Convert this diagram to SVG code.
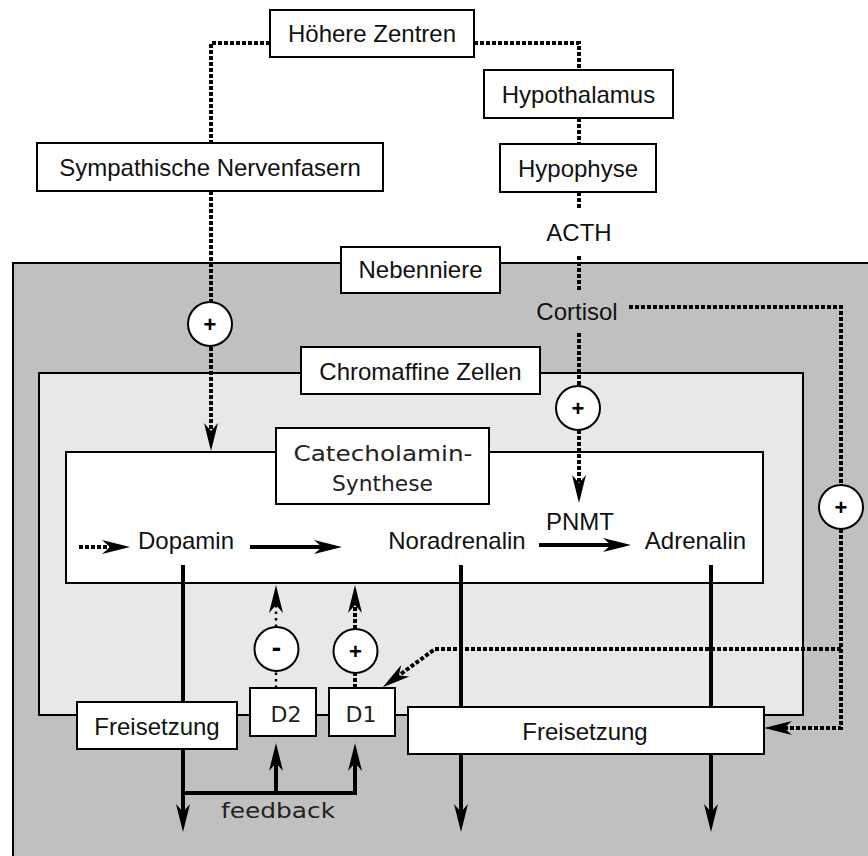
<svg xmlns="http://www.w3.org/2000/svg" width="868" height="856" viewBox="0 0 868 856">
<style>
.box{fill:#fff;stroke:#000;stroke-width:2}
.t{font-family:"Liberation Sans",Arial,sans-serif;font-size:24px;fill:#111;text-anchor:middle}
.g{font-family:"DejaVu Sans",Lato,sans-serif;font-size:22px;fill:#222;text-anchor:middle}
.sign{font-family:"Liberation Sans",Arial,sans-serif;font-size:22px;font-weight:bold;fill:#000;text-anchor:middle}
.circ{fill:#fff;stroke:#000;stroke-width:2}
.dot{fill:none;stroke:#000;stroke-width:4;stroke-dasharray:4 2}
.dot2{fill:none;stroke:#000;stroke-width:2.5;stroke-dasharray:2.5 4}
.sol{fill:none;stroke:#000;stroke-width:4}
</style>
<defs>
<marker id="arr" viewBox="0 -8 30 16" markerWidth="30" markerHeight="16" refX="14" refY="0" orient="auto" markerUnits="userSpaceOnUse">
<path d="M0,-7 L28,0 L0,7 L8,0 Z" fill="#000"/>
</marker>
</defs>

<g id="nebenniere">
<rect x="13" y="263" width="900" height="700" fill="#c0c0c0" stroke="#000" stroke-width="2"/>
<rect class="box" x="341" y="247" width="159" height="46"/>
<text class="t" x="420.5" y="278">Nebenniere</text>
</g>
<g id="chromaffine">
<rect x="39" y="373" width="764" height="342" fill="#e8e8e8" stroke="#000" stroke-width="2"/>
<rect class="box" x="301" y="347" width="239" height="47"/>
<text class="t" x="420.5" y="380">Chromaffine Zellen</text>
</g>
<g id="synthese">
<rect x="66" y="452" width="697" height="131" fill="#fff" stroke="#000" stroke-width="2"/>
<rect class="box" x="276" y="428" width="213" height="76"/>
<text class="g" x="383" y="461" textLength="179" lengthAdjust="spacingAndGlyphs">Catecholamin-</text>
<text class="g" x="382.5" y="491" textLength="101" lengthAdjust="spacingAndGlyphs">Synthese</text>
</g>

<g id="connectors">
<polyline class="dot" points="270,43 211,43 211,143"/>
<line class="dot" x1="211" y1="191" x2="211" y2="302"/>
<line class="dot" x1="211" y1="347" x2="211" y2="437" marker-end="url(#arr)"/>
<polyline class="dot" points="474,43 579,43 579,70"/>
<line class="dot" x1="579" y1="118" x2="579" y2="144"/>
<line class="dot" x1="579" y1="192" x2="579" y2="209"/>
<line class="dot" x1="579" y1="256" x2="579" y2="292"/>
<line class="dot" x1="579" y1="333" x2="579" y2="386"/>
<line class="dot" x1="579" y1="430" x2="579" y2="489" marker-end="url(#arr)"/>
<polyline class="dot" points="629,307 841,307 841,485"/>
<polyline class="dot" points="841,529 841,728 778,728" marker-end="url(#arr)"/>
<polyline class="dot" points="841,649 435,649 394,679" marker-end="url(#arr)"/>
<line class="dot" x1="79" y1="547" x2="116" y2="547" marker-end="url(#arr)"/>
<line class="sol" x1="250" y1="547" x2="328" y2="547" marker-end="url(#arr)"/>
<line class="sol" x1="539" y1="545" x2="617" y2="545" marker-end="url(#arr)"/>
<line class="sol" x1="183" y1="565" x2="183" y2="818" marker-end="url(#arr)"/>
<line class="sol" x1="461" y1="565" x2="461" y2="818" marker-end="url(#arr)"/>
<line class="sol" x1="711" y1="565" x2="711" y2="818" marker-end="url(#arr)"/>
<polyline class="sol" points="183,793 355,793 355,757" marker-end="url(#arr)"/>
<line class="sol" x1="276" y1="793" x2="276" y2="757" marker-end="url(#arr)"/>
<line class="dot2" x1="276" y1="688" x2="276" y2="671"/>
<line class="dot2" x1="276" y1="627" x2="276" y2="599" marker-end="url(#arr)"/>
<line class="dot" x1="355" y1="688" x2="355" y2="673"/>
<line class="dot" x1="355" y1="629" x2="355" y2="599" marker-end="url(#arr)"/>
</g>

<g id="hoehere-zentren">
<rect class="box" x="270" y="10" width="204" height="47"/>
<text class="t" x="372" y="42">Höhere Zentren</text>
</g>
<g id="sympathische">
<rect class="box" x="37" y="143" width="346" height="48"/>
<text class="t" x="210" y="176">Sympathische Nervenfasern</text>
</g>
<g id="hypothalamus">
<rect class="box" x="484" y="70" width="189" height="48"/>
<text class="t" x="578.5" y="103">Hypothalamus</text>
</g>
<g id="hypophyse">
<rect class="box" x="500" y="144" width="156" height="48"/>
<text class="t" x="578" y="177">Hypophyse</text>
</g>
<g id="acth"><text class="t" x="579" y="241">ACTH</text></g>
<g id="cortisol"><text class="t" x="577" y="320">Cortisol</text></g>

<g id="plus-sympath"><circle class="circ" cx="210" cy="324" r="22"/><text class="sign" x="210" y="332">+</text></g>
<g id="plus-cortisol"><circle class="circ" cx="578" cy="408" r="22"/><text class="sign" x="578" y="416">+</text></g>
<g id="plus-right"><circle class="circ" cx="841" cy="507" r="22"/><text class="sign" x="841" y="515">+</text></g>
<g id="minus-d2"><circle class="circ" cx="276.5" cy="649" r="22"/><text class="sign" x="276.5" y="657" style="font-size:28px">-</text></g>
<g id="plus-d1"><circle class="circ" cx="355.5" cy="651" r="22"/><text class="sign" x="355.5" y="659">+</text></g>

<g id="dopamin"><text class="t" x="186" y="549">Dopamin</text></g>
<g id="noradrenalin"><text class="t" x="457" y="549">Noradrenalin</text></g>
<g id="pnmt"><text class="t" x="580" y="530">PNMT</text></g>
<g id="adrenalin"><text class="t" x="695.5" y="549">Adrenalin</text></g>

<g id="freisetzung-left">
<rect class="box" x="77" y="702" width="160" height="47"/>
<text class="t" x="157" y="735">Freisetzung</text>
</g>
<g id="d2">
<rect class="box" x="250" y="688" width="66" height="48"/>
<text class="g" x="286" y="722">D2</text>
</g>
<g id="d1">
<rect class="box" x="329" y="688" width="66" height="48"/>
<text class="g" x="361" y="722">D1</text>
</g>
<g id="freisetzung-right">
<rect class="box" x="408" y="707" width="356" height="47"/>
<text class="t" x="585" y="740">Freisetzung</text>
</g>
<g id="feedback"><text class="g" x="278" y="818" textLength="114" lengthAdjust="spacingAndGlyphs">feedback</text></g>
</svg>
